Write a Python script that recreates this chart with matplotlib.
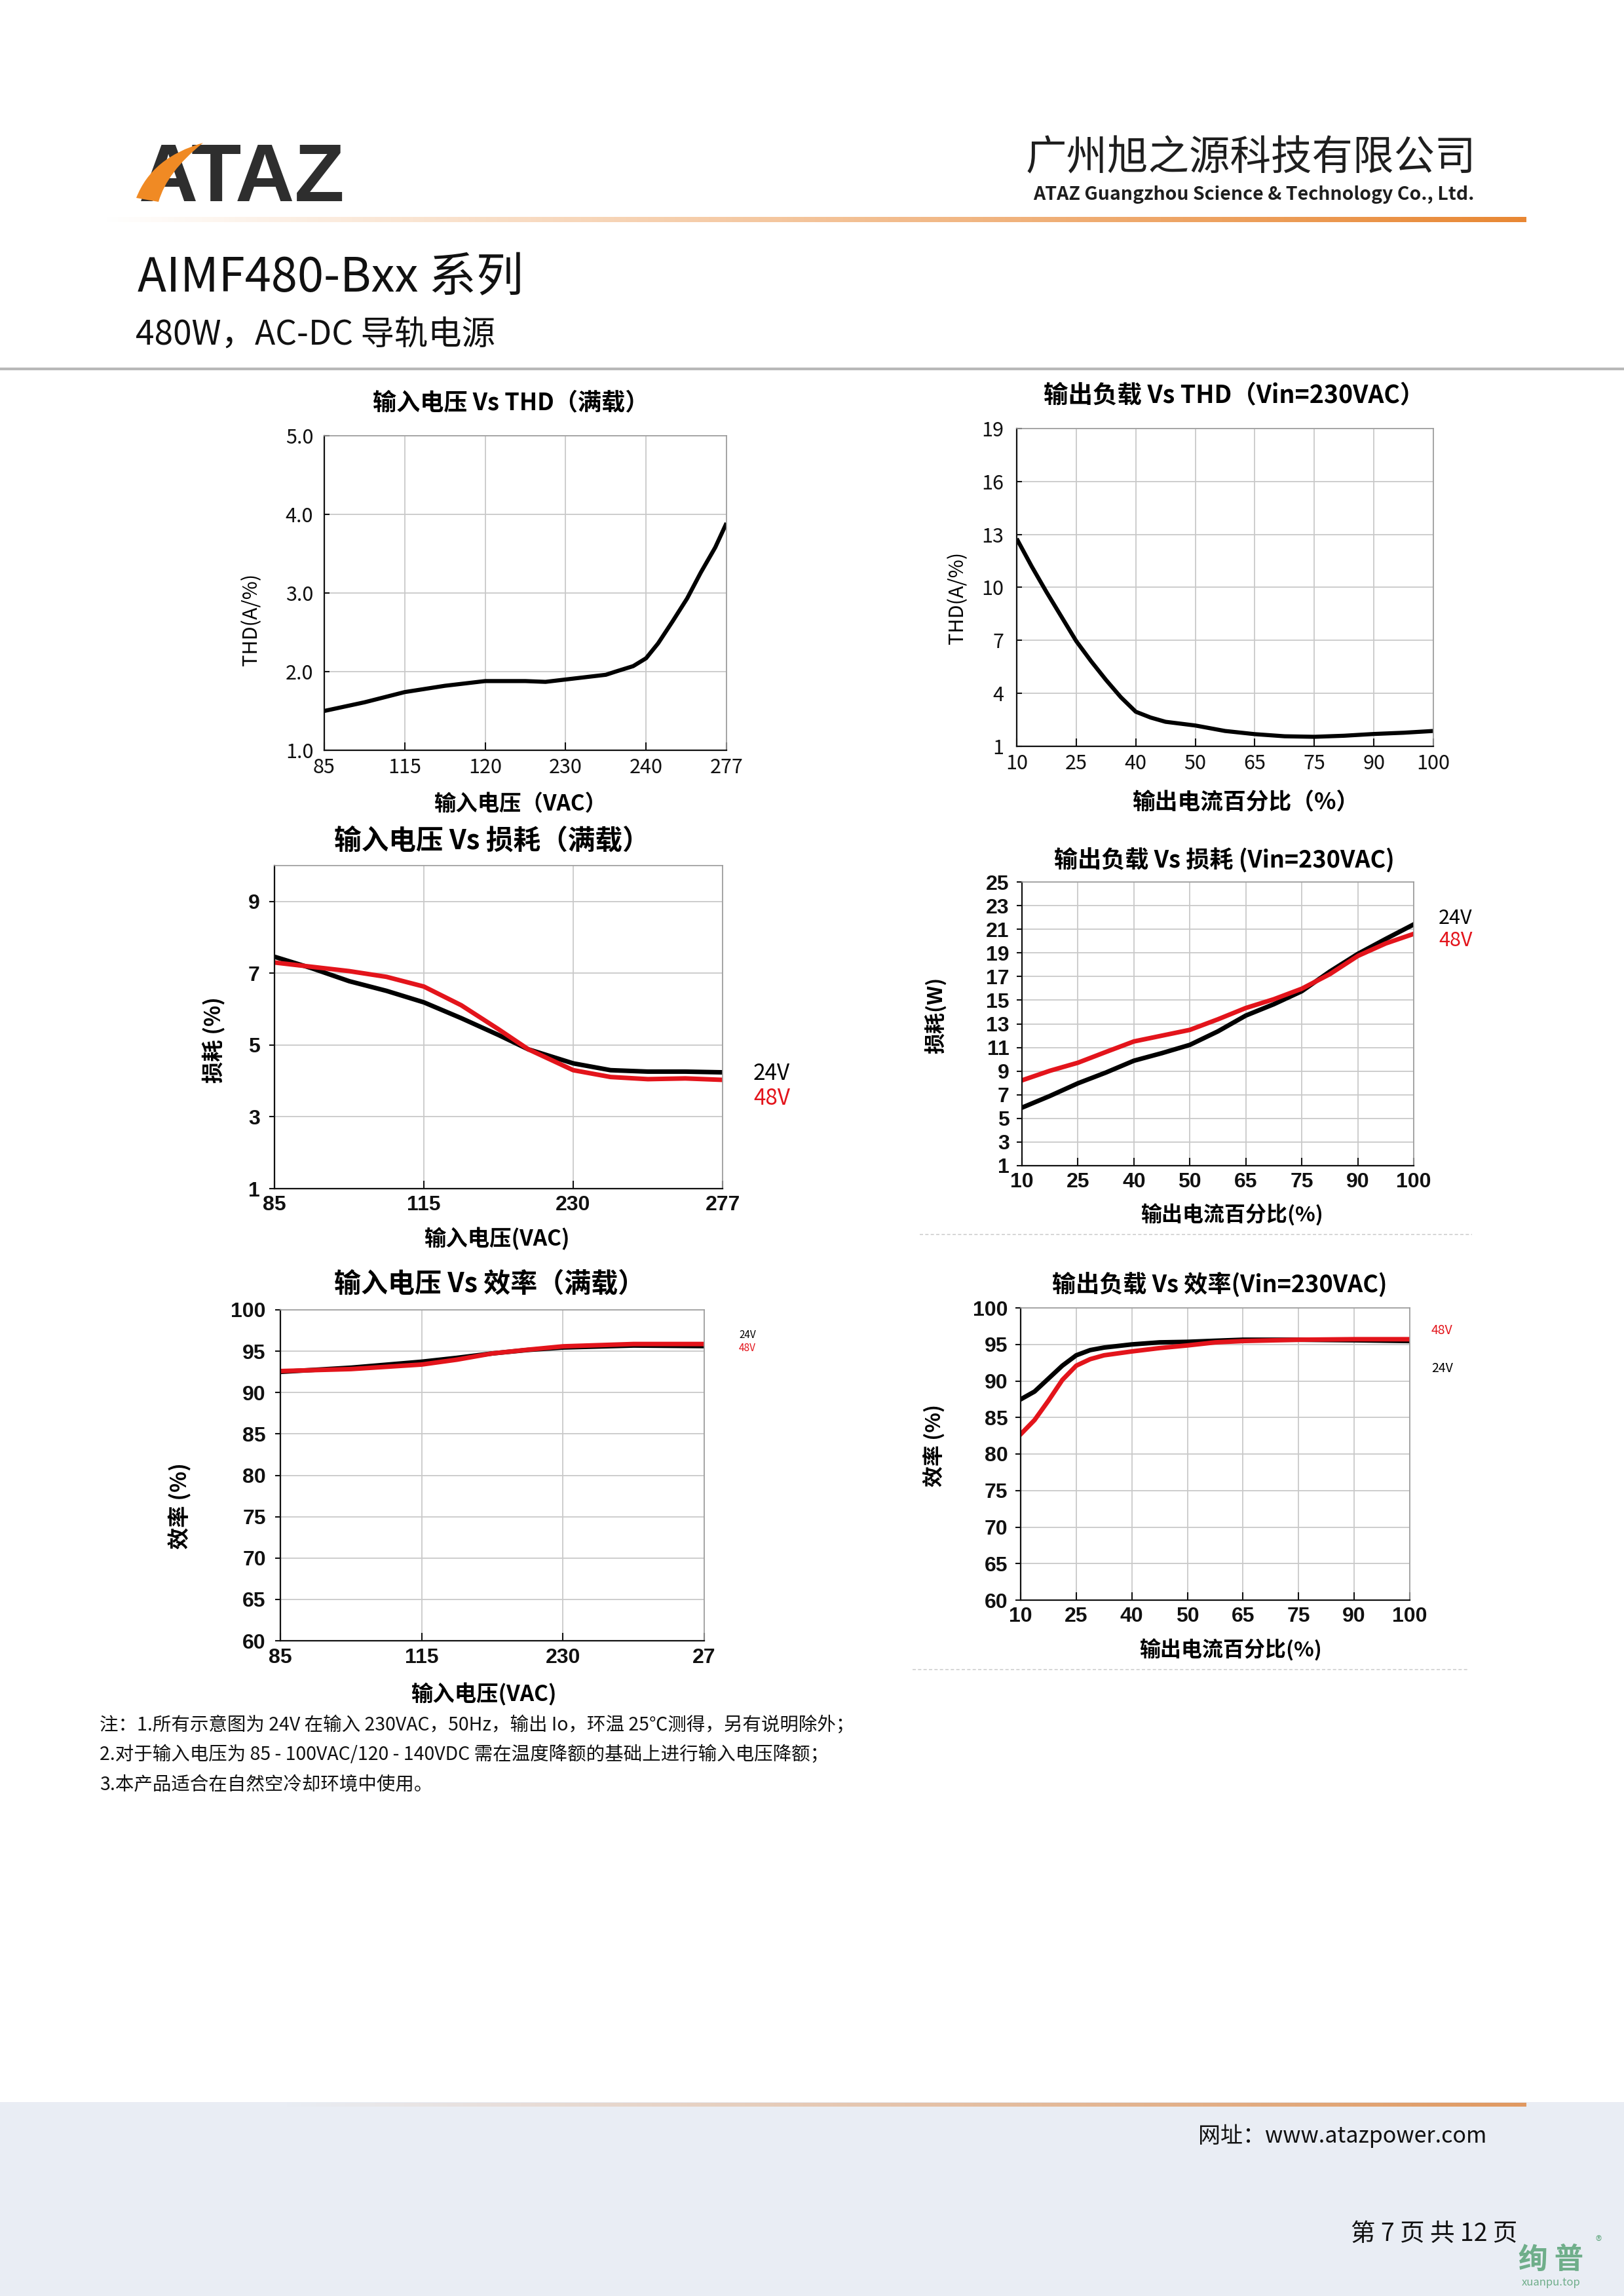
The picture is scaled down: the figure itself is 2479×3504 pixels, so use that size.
import numpy as np
import matplotlib
matplotlib.use('Agg')
import matplotlib.pyplot as plt
from matplotlib.patches import Rectangle, PathPatch
from matplotlib.path import Path
from matplotlib.font_manager import FontProperties

plt.rcParams['font.family'] = ['Noto Sans CJK SC', 'DejaVu Sans']

# ── Data ──────────────────────────────────────────────────────────────────────
# 1. input voltage vs THD (full load)
thd_vin_cats = ['85', '115', '120', '230', '240', '277']
thd_vin_x = [0, 0.5, 1, 1.5, 2, 2.5, 2.75, 3, 3.5, 3.62, 3.84, 4, 4.15, 4.33, 4.51, 4.68, 4.86, 5]
thd_vin_y = [1.50, 1.61, 1.74, 1.82, 1.88, 1.88, 1.87, 1.90, 1.96, 2.00, 2.07, 2.17, 2.36, 2.64, 2.93, 3.26, 3.58, 3.89]

# 2. output load vs THD (Vin=230VAC)
load_cats = ['10', '25', '40', '50', '65', '75', '90', '100']
thd_load_x = [0, 0.25, 0.5, 0.75, 1, 1.25, 1.5, 1.75, 2, 2.25, 2.5, 3, 3.5, 4, 4.5, 5, 5.5, 6, 6.5, 7]
thd_load_y = [12.76, 11.2, 9.74, 8.35, 6.96, 5.82, 4.76, 3.78, 2.96, 2.63, 2.39, 2.18, 1.87, 1.69, 1.57, 1.54, 1.60, 1.70, 1.77, 1.87]

# 3. input voltage vs loss (full load)
vin_cats = ['85', '115', '230', '277']
loss_vin_x = [0, 0.25, 0.5, 0.75, 1, 1.25, 1.5, 1.7, 2, 2.25, 2.5, 2.75, 3]
loss_vin_24 = [7.46, 7.14, 6.78, 6.51, 6.19, 5.75, 5.28, 4.88, 4.49, 4.30, 4.26, 4.26, 4.24]
loss_vin_48 = [7.30, 7.18, 7.06, 6.90, 6.63, 6.11, 5.44, 4.88, 4.30, 4.11, 4.05, 4.07, 4.03]

# 4. output load vs loss (Vin=230VAC)
loss_load_x = [0, 0.5, 1, 1.5, 2, 2.5, 3, 3.5, 4, 4.5, 5, 5.5, 6, 6.5, 7]
loss_load_24 = [5.91, 6.90, 7.97, 8.88, 9.88, 10.52, 11.22, 12.36, 13.70, 14.66, 15.76, 17.42, 18.91, 20.18, 21.41]
loss_load_48 = [8.22, 9.03, 9.71, 10.62, 11.51, 12.00, 12.49, 13.38, 14.34, 15.08, 15.97, 17.20, 18.74, 19.80, 20.61]

# 5. input voltage vs efficiency (full load)
eff_vin_cats = ['85', '115', '230', '27']
eff_vin_x = [0, 0.5, 1, 1.25, 1.5, 1.75, 2, 2.5, 3]
eff_vin_24 = [92.50, 93.01, 93.73, 94.20, 94.73, 95.15, 95.45, 95.69, 95.62]
eff_vin_48 = [92.60, 92.84, 93.39, 93.98, 94.73, 95.18, 95.59, 95.87, 95.87]

# 6. output load vs efficiency (Vin=230VAC)
eff_load_x = [0, 0.25, 0.5, 0.75, 1, 1.25, 1.5, 2, 2.5, 3, 3.5, 4, 5, 6, 7]
eff_load_24 = [87.48, 88.55, 90.32, 92.09, 93.51, 94.22, 94.57, 95.00, 95.28, 95.35, 95.50, 95.64, 95.64, 95.57, 95.46]
eff_load_48 = [82.70, 84.65, 87.30, 90.14, 92.09, 92.98, 93.51, 94.04, 94.50, 94.86, 95.28, 95.46, 95.64, 95.71, 95.71]

notes = [
    "注：1.所有示意图为 24V 在输入 230VAC，50Hz，输出 Io，环温 25℃测得，另有说明除外；",
    "2.对于输入电压为 85 - 100VAC/120 - 140VDC 需在温度降额的基础上进行输入电压降额；",
    "3.本产品适合在自然空冷却环境中使用。",
]

# ── Page setup (pixel coordinates on an overlay axes) ────────────────────────
W, H = 2479, 3504
RED = "#e3141b"
GRID = "#c9c9c9"
fig = plt.figure(figsize=(W / 100, H / 100), dpi=100, facecolor="white")
bg = fig.add_axes([0, 0, 1, 1], zorder=0)
bg.axis("off")


def gradient_line(x0, x1, y, th, rgb, a0=0.0, a1=1.0):
    g = np.zeros((1, 256, 4))
    g[..., :3] = rgb
    g[..., 3] = np.linspace(a0, a1, 256)
    bg.imshow(g, extent=(x0, x1, y + th / 2, y - th / 2), aspect="auto",
              interpolation="bilinear", zorder=2)


# header
gradient_line(150, 2330, 335, 8, (0.91, 0.53, 0.20), 0.0, 1.0)
bg.plot([0, W], [563, 563], color="#b8b8b8", lw=3, zorder=2)
bg.text(212, 307, "ATAZ", fontsize=90, fontweight="heavy",
        family="Liberation Sans", color="#2e2e2e", ha="left", va="baseline", zorder=3)
swoosh = Path([(208, 302), (232, 240), (310, 218), (255, 262), (242, 308), (208, 302)],
              [Path.MOVETO, Path.CURVE3, Path.CURVE3, Path.CURVE3, Path.CURVE3, Path.CLOSEPOLY])
bg.add_patch(PathPatch(swoosh, facecolor="#f08a24", edgecolor="none", zorder=4))
bg.text(2253, 241, "广州旭之源科技有限公司", fontsize=45, fontweight="medium",
        color="#1e1e1e", ha="right", va="center")
bg.text(2250, 297, "ATAZ Guangzhou Science & Technology Co., Ltd.", fontsize=20.5,
        fontweight="bold", color="#1e1e1e", ha="right", va="center")
bg.text(210, 425, "AIMF480-Bxx 系列", fontsize=52, fontweight="medium", color="#111111",
        ha="left", va="center")
bg.text(207, 512, "480W，AC-DC 导轨电源", fontsize=37, color="#111111", ha="left", va="center")

# footer
bg.add_patch(Rectangle((0, 3208), W, H - 3208, facecolor="#e9edf4", edgecolor="none", zorder=1))
gradient_line(427, 2330, 3212, 6, (0.88, 0.60, 0.38), 0.0, 1.0)
bg.text(2269, 3260, "网址：www.atazpower.com", fontsize=24.5, color="#111111", ha="right", va="center")
bg.text(2316, 3409, "第 7 页 共 12 页", fontsize=27, color="#111111", ha="right", va="center")
bg.text(2368, 3449, "绚 普", fontsize=32, fontweight="bold", color="#6fae8a", ha="center", va="center")
bg.text(2440, 3422, "®", fontsize=14, color="#6fae8a", ha="center", va="center")
bg.text(2368, 3484, "xuanpu.top", fontsize=12, color="#6fae8a", ha="center", va="center")

# separators
bg.plot([1404, 2247], [1884, 1884], color="#cfcfcf", lw=1.2, ls=(0, (3, 2)))
bg.plot([1393, 2243], [2548, 2548], color="#cfcfcf", lw=1.2, ls=(0, (3, 2)))

# notes
for i, line in enumerate(notes):
    bg.text(152, 2633 + i * 45, line, fontsize=20.5, color="#111111", ha="left", va="center")

bg.set_xlim(0, W)
bg.set_ylim(H, 0)


# ── Charts ────────────────────────────────────────────────────────────────────
def make_ax(l, t, r, b):
    return fig.add_axes([l / W, 1 - b / H, (r - l) / W, (b - t) / H], zorder=5)


def style_ax(ax, cats, yticks, ylim, tickfont, xpad, ypad, ydir="in"):
    ax.set_xlim(0, len(cats) - 1)
    ax.set_ylim(*ylim)
    ax.set_xticks(range(len(cats)))
    ax.set_xticklabels(cats)
    ax.set_yticks(yticks)
    ax.grid(True, color=GRID, lw=1.3)
    ax.set_axisbelow(True)
    for s in ["top", "right"]:
        ax.spines[s].set_color("#9a9a9a")
        ax.spines[s].set_linewidth(1.2)
    for s in ["left", "bottom"]:
        ax.spines[s].set_color("#111111")
        ax.spines[s].set_linewidth(1.6)
    ax.tick_params(axis="x", direction="in", length=9, width=1.5, pad=xpad, colors="#111111")
    ax.tick_params(axis="y", direction=ydir, length=6, width=1.5, pad=ypad, colors="#111111")
    for lab in ax.get_xticklabels() + ax.get_yticklabels():
        lab.set_fontproperties(tickfont)


f_thin = FontProperties(family=["Noto Sans CJK SC"], weight="medium", size=22)
f_bold = FontProperties(family=["Liberation Sans"], weight="bold", size=23)

# 1
ax1 = make_ax(495, 665, 1109, 1145)
ax1.plot(thd_vin_x, thd_vin_y, color="black", lw=4.5, solid_capstyle="butt", solid_joinstyle="round")
style_ax(ax1, thd_vin_cats, [1, 2, 3, 4, 5], (1, 5), f_thin, 8, 12)
ax1.set_yticklabels(["1.0", "2.0", "3.0", "4.0", "5.0"], fontproperties=f_thin)
bg.text(780, 615, "输入电压 Vs THD（满载）", fontsize=26, fontweight="bold", ha="center", va="center")
bg.text(794, 1227, "输入电压（VAC）", fontsize=24, fontweight="bold", ha="center", va="center")
bg.text(384, 945, "THD(A/%)", fontsize=22, fontweight="medium", rotation=90, ha="center", va="center")

# 2
ax2 = make_ax(1552, 654, 2188, 1139)
ax2.plot(thd_load_x, thd_load_y, color="black", lw=4.5, solid_capstyle="butt", solid_joinstyle="round")
style_ax(ax2, load_cats, [1, 4, 7, 10, 13, 16, 19], (1, 19), f_thin, 8, 14)
bg.text(1884, 604, "输出负载 Vs THD（Vin=230VAC）", fontsize=27, fontweight="bold", ha="center", va="center")
bg.text(1902, 1225, "输出电流百分比（%）", fontsize=25, fontweight="bold", ha="center", va="center")
bg.text(1462, 912, "THD(A/%)", fontsize=22, fontweight="medium", rotation=90, ha="center", va="center")

# 3
ax3 = make_ax(419, 1321, 1103, 1814)
ax3.plot(loss_vin_x, loss_vin_24, color="black", lw=5, solid_joinstyle="round")
ax3.plot(loss_vin_x, loss_vin_48, color=RED, lw=5, solid_joinstyle="round")
style_ax(ax3, vin_cats, [1, 3, 5, 7, 9], (1, 10), f_bold, 7, 10, ydir="out")
bg.text(751, 1283, "输入电压 Vs 损耗（满载）", fontsize=30, fontweight="bold", ha="center", va="center")
bg.text(758, 1891, "输入电压(VAC)", fontsize=24, fontweight="bold", ha="center", va="center")
bg.text(326, 1587, "损耗 (%)", fontsize=24, fontweight="bold", rotation=90, ha="center", va="center")
bg.text(1150, 1638, "24V", fontsize=24, color="black", ha="left", va="center")
bg.text(1150, 1677, "48V", fontsize=24, color=RED, ha="left", va="center")

# 4
ax4 = make_ax(1560, 1346, 2158, 1779)
ax4.plot(loss_load_x, loss_load_24, color="black", lw=5, solid_joinstyle="round")
ax4.plot(loss_load_x, loss_load_48, color=RED, lw=5, solid_joinstyle="round")
style_ax(ax4, load_cats, list(range(1, 26, 2)), (1, 25), f_bold, 7, 8, ydir="out")
bg.text(1869, 1312, "输出负载 Vs 损耗 (Vin=230VAC)", fontsize=26, fontweight="bold", ha="center", va="center")
bg.text(1880, 1855, "输出电流百分比(%)", fontsize=23, fontweight="bold", ha="center", va="center")
bg.text(1428, 1549, "损耗(W)", fontsize=23, fontweight="bold", rotation=90, ha="center", va="center")
bg.text(2196, 1402, "24V", fontsize=22, color="black", ha="left", va="center")
bg.text(2196, 1435, "48V", fontsize=22, color=RED, ha="left", va="center")

# 5
ax5 = make_ax(428, 1999, 1075, 2504)
ax5.plot(eff_vin_x, eff_vin_24, color="black", lw=5, solid_joinstyle="round")
ax5.plot(eff_vin_x, eff_vin_48, color=RED, lw=5, solid_joinstyle="round")
style_ax(ax5, eff_vin_cats, list(range(60, 101, 5)), (60, 100), f_bold, 8, 10, ydir="out")
bg.text(747, 1960, "输入电压 Vs 效率（满载）", fontsize=29.5, fontweight="bold", ha="center", va="center")
bg.text(738, 2586, "输入电压(VAC)", fontsize=24, fontweight="bold", ha="center", va="center")
bg.text(275, 2298, "效率 (%)", fontsize=24, fontweight="bold", rotation=90, ha="center", va="center")
bg.text(1128, 2038, "24V", fontsize=11, color="black", ha="left", va="center")
bg.text(1128, 2058, "48V", fontsize=11, color=RED, ha="left", va="center")

# 6
ax6 = make_ax(1558, 1996, 2152, 2442)
ax6.plot(eff_load_x, eff_load_24, color="black", lw=5, solid_joinstyle="round")
ax6.plot(eff_load_x, eff_load_48, color=RED, lw=5, solid_joinstyle="round")
style_ax(ax6, load_cats, list(range(60, 101, 5)), (60, 100), f_bold, 7, 8, ydir="out")
bg.text(1862, 1960, "输出负载 Vs 效率(Vin=230VAC)", fontsize=26, fontweight="bold", ha="center", va="center")
bg.text(1878, 2519, "输出电流百分比(%)", fontsize=23, fontweight="bold", ha="center", va="center")
bg.text(1426, 2206, "效率 (%)", fontsize=23, fontweight="bold", rotation=90, ha="center", va="center")
bg.text(2185, 2031, "48V", fontsize=14, color=RED, ha="left", va="center")
bg.text(2185, 2089, "24V", fontsize=14, color="black", ha="left", va="center")

fig.savefig("out.png", dpi=100, facecolor="white")
